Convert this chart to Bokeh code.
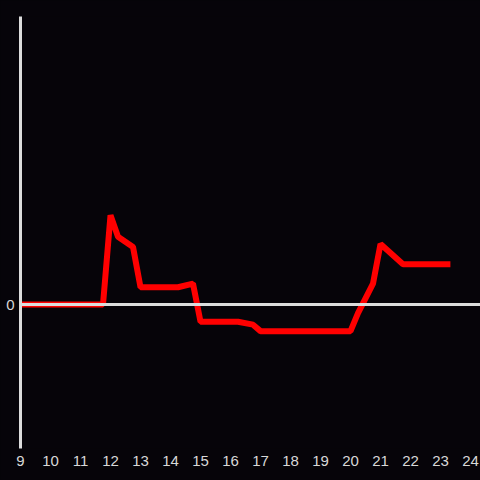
from bokeh.plotting import figure
from bokeh.models import Span, FixedTicker, Range1d
from bokeh.embed import file_html
from bokeh.resources import INLINE

hours = [9.0, 11.75, 12.0, 12.25, 12.75, 13.0, 14.25, 14.75, 15.0, 16.25, 16.75, 17.0, 20.0, 20.25, 20.75, 21.0, 21.75, 23.33]
values = [0.0, 0.0, 0.62, 0.47, 0.40, 0.12, 0.12, 0.145, -0.12, -0.12, -0.14, -0.185, -0.185, -0.06, 0.145, 0.42, 0.28, 0.28]
x_ticks = list(range(9, 25))
y_ticks = [0]

bg = "#060409"
p = figure(width=480, height=480, output_backend="svg", toolbar_location=None,
           x_range=Range1d(9, 24.333), y_range=Range1d(-1, 2),
           min_border_left=20, min_border_right=0, min_border_top=16, min_border_bottom=32)
p.background_fill_color = bg
p.border_fill_color = bg
p.outline_line_color = None
p.grid.visible = False

p.xaxis.ticker = FixedTicker(ticks=x_ticks)
p.xaxis.axis_line_color = None
p.xaxis.major_tick_line_color = None
p.xaxis.minor_tick_line_color = None
p.xaxis.major_label_standoff = 1
p.xaxis.major_label_text_color = "#d8d8d8"
p.xaxis.major_label_text_font = "Liberation Sans"
p.xaxis.major_label_text_font_size = "15px"

p.yaxis.ticker = FixedTicker(ticks=y_ticks)
p.yaxis.axis_line_color = "#dcdcdc"
p.yaxis.axis_line_width = 3
p.yaxis.major_tick_line_color = None
p.yaxis.minor_tick_line_color = None
p.yaxis.major_label_standoff = 0
p.yaxis.major_label_text_color = "#d8d8d8"
p.yaxis.major_label_text_font = "Liberation Sans"
p.yaxis.major_label_text_font_size = "15px"

p.add_layout(Span(location=0, dimension="width", line_color="#dcdcdc", line_width=3))
p.line(hours, values, line_color="#ff0000", line_width=6, line_join="bevel")

html = file_html(p, INLINE)
html = html.replace("<head>", "<head><style>html,body{margin:0;padding:0;background:%s;overflow:hidden;}</style>" % bg, 1)
open("out.html", "w").write(html)
